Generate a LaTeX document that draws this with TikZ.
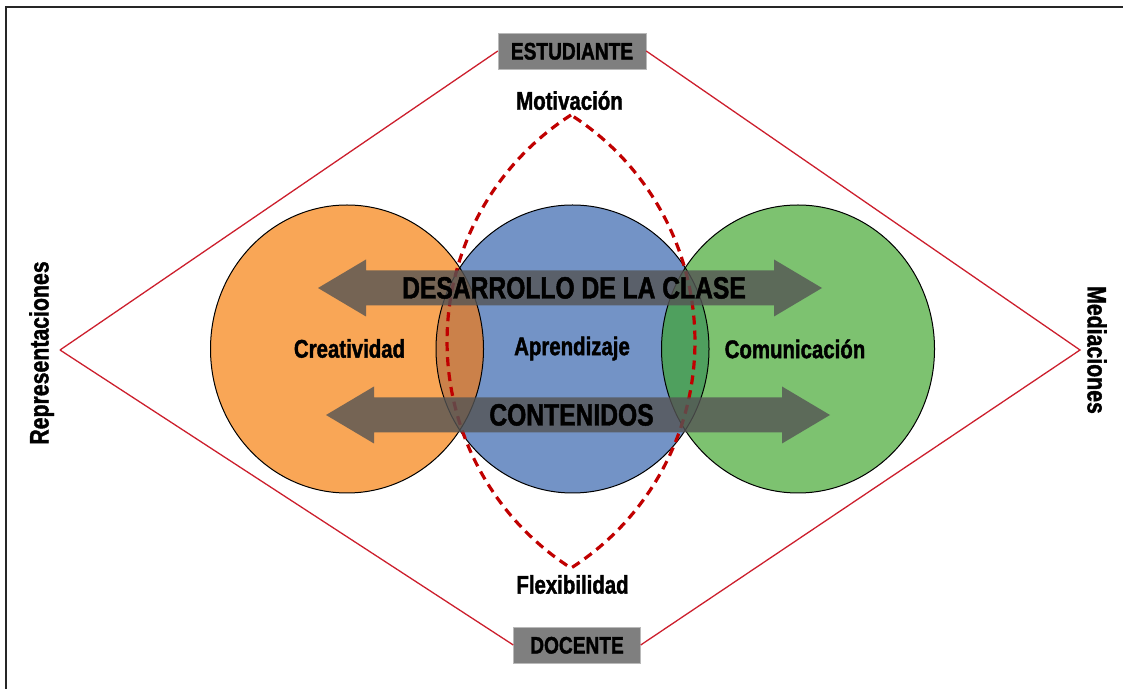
\documentclass[tikz,border=0pt]{standalone}
\usepackage{fontspec}
\newfontfamily\diagfont{Liberation Sans}[FakeStretch=0.8, FakeBold=1.5]
\usetikzlibrary{positioning}

\definecolor{naranja}{HTML}{F9A656}
\definecolor{azul}{HTML}{7393C6}
\definecolor{verde}{HTML}{7DC270}
\definecolor{naranjaazul}{HTML}{CB814A}
\definecolor{azulverde}{HTML}{4FA05E}
\definecolor{rojo}{HTML}{C00000}
\definecolor{linearoja}{HTML}{CC1F2D}
\definecolor{cajagris}{HTML}{7F7F7F}

\begin{document}
\begin{tikzpicture}[
    x=1pt, y=1pt,
    every node/.style={font=\diagfont\bfseries\fontsize{25.5}{30}\selectfont, text height=18.3pt, text depth=0pt, inner sep=0pt},
    rol/.style={draw=gray!55, fill=cajagris, minimum height=36pt, text height=17.1pt, font=\diagfont\bfseries\fontsize{23.9}{28}\selectfont},
    eje/.style={font=\diagfont\bfseries\fontsize{26.6}{31}\selectfont, text height=19pt},
    rotulo/.style={font=\diagfont\bfseries\fontsize{30.8}{36}\selectfont, text height=22pt},
    flecha/.style={fill=black!67, fill opacity=0.8},
    diamante/.style={draw=linearoja, line width=1.3pt},
    lente/.style={draw=rojo, line width=3.2pt, dash pattern=on 9pt off 6pt},
    borde/.style={draw=black, line width=1pt}
]
\useasboundingbox (0,0) rectangle (1123,688);
\clip (0,0) rectangle (1123,688);
\draw[line width=2pt, black!85] (6,-10) |- (1140,681);

\node[rol, minimum width=148pt] (estudiante) at (572,637) {ESTUDIANTE};
\node[rol, minimum width=127pt] (docente) at (577,43) {DOCENTE};
\coordinate (izq) at (60,338);
\coordinate (der) at (1080,338);
\draw[diamante] (izq) -- (estudiante.west) (estudiante.east) -- (der) -- (docente.east) (docente.west) -- (izq);

% circulos y cruces
\foreach \cx/\col in {347/naranja, 572.5/azul, 798/verde}
    \fill[\col] (\cx,339) ellipse [x radius=136.5, y radius=144];
\begin{scope}
    \clip (347,339) ellipse [x radius=136.5, y radius=144];
    \fill[naranjaazul] (572.5,339) ellipse [x radius=136.5, y radius=144];
\end{scope}
\begin{scope}
    \clip (798,339) ellipse [x radius=136.5, y radius=144];
    \fill[azulverde] (572.5,339) ellipse [x radius=136.5, y radius=144];
\end{scope}
\foreach \cx in {347, 572.5, 798}
    \draw[borde] (\cx,339) ellipse [x radius=136.5, y radius=144];

\draw[lente] (571,573) arc[start angle=122.63, end angle=237.37, radius=269]
    arc[start angle=-57.37, end angle=57.37, radius=269];

% flechas
\fill[flecha] (318,400) -- ++(48,28.5) -- ++(0,-11) -- (774,417.5) -- ++(0,11) -- (822,400)
    -- ++(-48,-28.5) -- ++(0,11) -- (366,382.5) -- ++(0,-11) -- cycle;
\fill[flecha] (326,273) -- ++(48,28.5) -- ++(0,-11) -- (782,290.5) -- ++(0,11) -- (830,273)
    -- ++(-48,-28.5) -- ++(0,11) -- (374,255.5) -- ++(0,-11) -- cycle;

\node[rotulo] (desarrollo) at (574,400.5) {DESARROLLO DE LA CLASE};
\node[rotulo] (contenidos) at (571.5,273.5) {CONTENIDOS};
\node (creatividad) at (349.5,339.5) {Creatividad};
\node (aprendizaje) at (572,342) {Aprendizaje};
\node (comunicacion) at (795,339) {Comunicación};
\node[below=22pt of estudiante, xshift=-2.5pt] (motivacion) {Motivación};
\node[above=33pt of docente, xshift=-4.5pt] (flexibilidad) {Flexibilidad};
\node[eje, rotate=90] (representaciones) at (39,335) {Representaciones};
\node[eje, rotate=-90] (mediaciones) at (1097,338) {Mediaciones};
\end{tikzpicture}
\end{document}
